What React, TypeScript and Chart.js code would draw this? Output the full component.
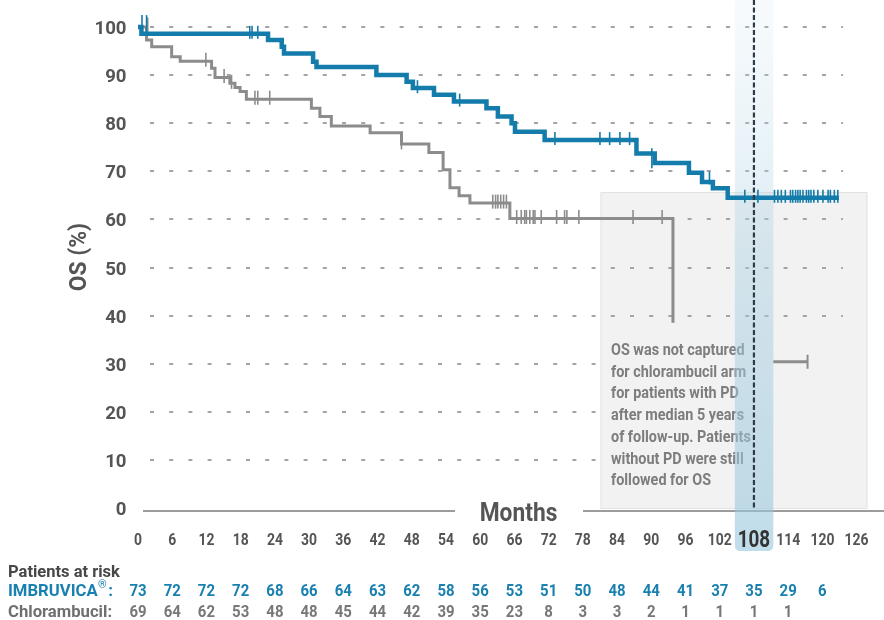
import React, { useEffect, useRef } from "react";
import { Chart, registerables } from "chart.js";

Chart.register(...registerables);

// ---- Data ----
const xTicks = [0, 6, 12, 18, 24, 30, 36, 42, 48, 54, 60, 66, 72, 78, 84, 90, 96, 102, 108, 114, 120, 126];
const yTicks = [0, 10, 20, 30, 40, 50, 60, 70, 80, 90, 100];

const imbruvicaCurve = [
  { x: 0, y: 100 }, { x: 0.6, y: 98.6 }, { x: 22.8, y: 97.3 }, { x: 25.2, y: 95.9 },
  { x: 25.6, y: 94.5 }, { x: 30.7, y: 92.8 }, { x: 31.3, y: 91.7 }, { x: 41.8, y: 90.0 },
  { x: 47.1, y: 88.6 }, { x: 48.2, y: 87.3 }, { x: 51.9, y: 85.9 }, { x: 55.4, y: 84.5 },
  { x: 61.1, y: 83.1 }, { x: 63.1, y: 81.4 }, { x: 65.5, y: 80.0 }, { x: 66.1, y: 78.2 },
  { x: 71.3, y: 76.5 }, { x: 87.4, y: 73.7 }, { x: 90.6, y: 71.7 }, { x: 96.6, y: 69.7 },
  { x: 98.9, y: 67.8 }, { x: 100.8, y: 66.5 }, { x: 103.4, y: 64.5 }, { x: 122.9, y: 64.5 },
];

const imbruvicaCensored = [
  { x: 0.7, y: 100.6 }, { x: 1.5, y: 100.6 },
  { x: 19.6, y: 98.9 }, { x: 20.0, y: 98.9 }, { x: 21.0, y: 98.9 },
  { x: 49.0, y: 87.6 }, { x: 56.4, y: 84.8 },
  { x: 73.1, y: 76.8 }, { x: 81.0, y: 76.8 }, { x: 82.7, y: 76.8 }, { x: 84.5, y: 76.8 }, { x: 86.2, y: 76.8 },
  { x: 90.1, y: 72.7 }, { x: 100.2, y: 68.6 },
  { x: 106.4, y: 64.8 }, { x: 108.7, y: 64.8 },
  { x: 111.6, y: 64.8 }, { x: 112.2, y: 64.8 }, { x: 112.8, y: 64.8 }, { x: 113.5, y: 64.8 },
  { x: 114.4, y: 64.8 }, { x: 114.8, y: 64.8 }, { x: 115.3, y: 64.8 }, { x: 115.7, y: 64.8 },
  { x: 116.1, y: 64.8 }, { x: 116.6, y: 64.8 }, { x: 117.2, y: 64.8 }, { x: 117.6, y: 64.8 },
  { x: 118.0, y: 64.8 }, { x: 118.5, y: 64.8 }, { x: 119.2, y: 64.8 }, { x: 120.1, y: 64.8 },
  { x: 121.0, y: 64.8 }, { x: 121.4, y: 64.8 }, { x: 122.1, y: 64.8 }, { x: 122.7, y: 64.8 },
];

const chlorambucilCurve = [
  { x: 0, y: 100 }, { x: 1.5, y: 97.3 }, { x: 2.4, y: 95.9 }, { x: 5.9, y: 93.8 },
  { x: 7.4, y: 92.9 }, { x: 12.9, y: 91.4 }, { x: 13.5, y: 89.5 }, { x: 16.1, y: 88.3 },
  { x: 17.0, y: 87.4 }, { x: 17.9, y: 86.6 }, { x: 19.0, y: 85.0 }, { x: 30.4, y: 83.1 },
  { x: 31.9, y: 81.4 }, { x: 33.9, y: 79.4 }, { x: 40.7, y: 78.0 }, { x: 46.2, y: 75.7 },
  { x: 51.0, y: 73.9 }, { x: 53.5, y: 70.3 }, { x: 54.7, y: 66.6 }, { x: 56.3, y: 64.9 },
  { x: 58.2, y: 63.4 }, { x: 65.2, y: 60.2 }, { x: 93.8, y: 38.5 },
];

const chlorambucilCensored = [
  { x: 1.7, y: 100.3 }, { x: 11.9, y: 93.2 }, { x: 15.1, y: 89.8 }, { x: 16.4, y: 88.6 },
  { x: 20.5, y: 85.3 }, { x: 21.0, y: 85.3 }, { x: 23.1, y: 85.3 }, { x: 46.2, y: 76.0 },
  { x: 62.2, y: 63.7 }, { x: 62.7, y: 63.7 }, { x: 63.1, y: 63.7 }, { x: 63.6, y: 63.7 },
  { x: 64.1, y: 63.7 }, { x: 64.6, y: 63.7 },
  { x: 66.4, y: 60.5 }, { x: 67.2, y: 60.5 }, { x: 67.8, y: 60.5 }, { x: 68.1, y: 60.5 },
  { x: 68.7, y: 60.5 }, { x: 69.3, y: 60.5 }, { x: 69.6, y: 60.5 }, { x: 70.7, y: 60.5 },
  { x: 73.4, y: 60.5 }, { x: 74.8, y: 60.5 }, { x: 75.2, y: 60.5 }, { x: 77.3, y: 60.5 },
  { x: 86.8, y: 60.5 }, { x: 91.9, y: 60.5 },
];

const chlorambucilLater = [{ x: 111.4, y: 30.4 }, { x: 117.4, y: 30.4 }];

const riskMonths = [0, 6, 12, 18, 24, 30, 36, 42, 48, 54, 60, 66, 72, 78, 84, 90, 96, 102, 108, 114, 120];
const imbruvicaAtRisk = [73, 72, 72, 72, 68, 66, 64, 63, 62, 58, 56, 53, 51, 50, 48, 44, 41, 37, 35, 29, 6];
const chlorambucilAtRisk = [69, 64, 62, 53, 48, 48, 45, 44, 42, 39, 35, 23, 8, 3, 3, 2, 1, 1, 1, 1];

const highlightMonth = 108;
const boxRange = { x0: 81.1, x1: 127.9, yTop: 65.7 };
const noteLines = [
  "OS was not captured",
  "for chlorambucil arm",
  "for patients with PD",
  "after median 5 years",
  "of follow-up. Patients",
  "without PD were still",
  "followed for OS",
];

// ---- Styles ----
const BLUE = "#137caa";
const BLUE_TEXT = "#1a80b0";
const GREY = "#8c8c8c";
const TEXT = "#555555";
const FONT = "Roboto, 'Liberation Sans', sans-serif";

function drawText(
  ctx: CanvasRenderingContext2D, s: string, x: number, y: number,
  size: number, color: string, align: "left" | "center" | "right" = "left", sx = 1, weight = "bold"
) {
  ctx.save();
  ctx.font = `${weight} ${size}px ${FONT}`;
  ctx.fillStyle = color;
  ctx.textBaseline = "alphabetic";
  ctx.textAlign = "left";
  const w = ctx.measureText(s).width * sx;
  const x0 = align === "center" ? x - w / 2 : align === "right" ? x - w : x;
  ctx.translate(x0, y);
  ctx.scale(sx, 1);
  ctx.fillText(s, 0, 0);
  ctx.restore();
  return w;
}

const decorPlugin = {
  id: "decor",
  beforeDatasetsDraw(chart: any) {
    const ctx: CanvasRenderingContext2D = chart.ctx;
    const xs = chart.scales.x;
    const ys = chart.scales.y;
    // grey note box
    const bx0 = xs.getPixelForValue(boxRange.x0);
    const bx1 = xs.getPixelForValue(boxRange.x1);
    const by0 = ys.getPixelForValue(boxRange.yTop);
    const by1 = ys.getPixelForValue(0);
    ctx.save();
    ctx.fillStyle = "#f2f2f2";
    ctx.fillRect(bx0, by0, bx1 - bx0, by1 - by0);
    ctx.strokeStyle = "#e2e2e2";
    ctx.lineWidth = 1;
    ctx.strokeRect(bx0 + 0.5, by0 + 0.5, bx1 - bx0 - 1, by1 - by0);
    ctx.restore();

    // dotted gridlines (lower ones stop at the note box)
    ctx.save();
    ctx.strokeStyle = "#a3a3a3";
    ctx.lineWidth = 2;
    ctx.setLineDash([4, 15.2]);
    for (const v of yTicks) {
      if (v === 0) continue;
      const y = Math.round(ys.getPixelForValue(v));
      ctx.beginPath();
      ctx.moveTo(150, y);
      ctx.lineTo(v <= 30 ? bx0 - 4 : 843, y);
      ctx.stroke();
    }
    ctx.restore();

    // x axis line with gap for "Months"
    ctx.save();
    ctx.strokeStyle = "#9c9c9c";
    ctx.lineWidth = 2;
    ctx.beginPath();
    ctx.moveTo(143, 511);
    ctx.lineTo(455, 511);
    ctx.moveTo(583, 511);
    ctx.lineTo(884, 511);
    ctx.stroke();
    ctx.restore();

    // note text
    noteLines.forEach((s, i) => {
      drawText(ctx, s, 611, 355 + i * 21.7, 16, "#7d7d7d", "left", 0.9);
    });

    // highlight band at 108
    const hx0 = xs.getPixelForValue(highlightMonth - 3.35);
    const hx1 = xs.getPixelForValue(highlightMonth + 3.4);
    const g = ctx.createLinearGradient(0, 0, 0, 551);
    g.addColorStop(0, "rgba(200,225,237,0.15)");
    g.addColorStop(0.5, "rgba(170,208,226,0.45)");
    g.addColorStop(1, "rgba(150,198,220,0.6)");
    ctx.save();
    ctx.fillStyle = g;
    ctx.beginPath();
    const r = 6;
    ctx.moveTo(hx0, 0);
    ctx.lineTo(hx1, 0);
    ctx.lineTo(hx1, 551 - r);
    ctx.quadraticCurveTo(hx1, 551, hx1 - r, 551);
    ctx.lineTo(hx0 + r, 551);
    ctx.quadraticCurveTo(hx0, 551, hx0, 551 - r);
    ctx.closePath();
    ctx.fill();
    ctx.restore();
  },
  afterDatasetsDraw(chart: any) {
    const ctx: CanvasRenderingContext2D = chart.ctx;
    const xs = chart.scales.x;
    const ys = chart.scales.y;
    // dashed vertical line at 108
    const hx = xs.getPixelForValue(highlightMonth);
    ctx.save();
    ctx.strokeStyle = "#2f3b46";
    ctx.lineWidth = 2.2;
    ctx.setLineDash([5, 2.5]);
    ctx.beginPath();
    ctx.moveTo(hx, 0);
    ctx.lineTo(hx, ys.getPixelForValue(0));
    ctx.stroke();
    ctx.restore();

    drawText(ctx, "Months", 518.5, 521, 25, TEXT, "center", 0.91);

    // y tick labels
    for (const v of yTicks) {
      const y = ys.getPixelForValue(v);
      drawText(ctx, String(v), 126.5, y + 7, 19, TEXT, "right", 0.98);
    }
    // y title
    ctx.save();
    ctx.translate(86, 257);
    ctx.rotate(-Math.PI / 2);
    drawText(ctx, "OS (%)", 0, 0, 24, TEXT, "center", 0.95);
    ctx.restore();

    // x tick labels
    for (const v of xTicks) {
      const x = xs.getPixelForValue(v);
      if (v === highlightMonth) {
        drawText(ctx, String(v), x, 547, 23, "#333333", "center", 0.82);
      } else {
        drawText(ctx, String(v), x, 545, 17, TEXT, "center", 0.82);
      }
    }

    // patients at risk table
    drawText(ctx, "Patients at risk", 8, 577, 16.5, "#474747", "left", 1);
    const w = drawText(ctx, "IMBRUVICA", 8, 596, 17, BLUE_TEXT, "left", 0.98);
    const w2 = drawText(ctx, "®", 8 + w + 0.5, 588, 11, BLUE_TEXT, "left", 1, "normal");
    drawText(ctx, ":", 8 + w + w2 + 2, 596, 17, BLUE_TEXT, "left", 1);
    drawText(ctx, "Chlorambucil:", 8, 617, 17, "#6f6f6f", "left", 0.98);
    riskMonths.forEach((m, i) => {
      const x = xs.getPixelForValue(m);
      if (imbruvicaAtRisk[i] !== undefined)
        drawText(ctx, String(imbruvicaAtRisk[i]), x, 596, 17, BLUE_TEXT, "center", 0.88);
      if (chlorambucilAtRisk[i] !== undefined)
        drawText(ctx, String(chlorambucilAtRisk[i]), x, 617, 17, "#777777", "center", 0.88);
    });
  },
};

export default function App() {
  const ref = useRef<HTMLCanvasElement | null>(null);
  useEffect(() => {
    if (!ref.current) return;
    const chart = new Chart(ref.current, {
      type: "line",
      data: {
        datasets: [
          {
            type: "scatter",
            label: "IMBRUVICA censored",
            data: imbruvicaCensored,
            showLine: false,
            pointStyle: "line",
            rotation: 90,
            pointRadius: imbruvicaCensored.map((p) => (p.x > 89 && p.x < 91 ? 10 : p.x < 2 ? 9 : 6.5)),
            pointBorderWidth: 1.6,
            pointBorderColor: BLUE,
            pointBackgroundColor: BLUE,
            clip: false,
            order: 0,
          } as any,
          {
            label: "IMBRUVICA",
            data: imbruvicaCurve,
            stepped: "before",
            borderColor: BLUE,
            borderWidth: 4.5,
            pointRadius: 0,
            fill: false,
            clip: false,
            order: 1,
          } as any,
          {
            type: "scatter",
            label: "Chlorambucil censored",
            data: chlorambucilCensored,
            showLine: false,
            pointStyle: "line",
            rotation: 90,
            pointRadius: chlorambucilCensored.map((p) => (p.x < 2 ? 8 : 7)),
            pointBorderWidth: 1.6,
            pointBorderColor: GREY,
            pointBackgroundColor: GREY,
            clip: false,
            order: 2,
          } as any,
          {
            label: "Chlorambucil",
            data: chlorambucilCurve,
            stepped: "before",
            borderColor: GREY,
            borderWidth: 3,
            pointRadius: 0,
            fill: false,
            clip: false,
            order: 3,
          } as any,
          {
            label: "Chlorambucil (later)",
            data: chlorambucilLater,
            borderColor: GREY,
            borderWidth: 3,
            pointStyle: "line",
            rotation: 90,
            pointRadius: [0, 7],
            pointBorderWidth: 2,
            pointBorderColor: GREY,
            fill: false,
            clip: false,
            order: 4,
          } as any,
        ],
      },
      options: {
        responsive: false,
        animation: false,
        events: [],
        layout: { padding: { left: 138, right: 27.4, top: 27, bottom: 112 } },
        plugins: { legend: { display: false }, tooltip: { enabled: false } },
        scales: {
          x: { type: "linear", min: 0, max: 126, display: false },
          y: { type: "linear", min: 0, max: 100, display: false },
        },
      },
      plugins: [decorPlugin],
    });
    return () => chart.destroy();
  }, []);
  return (
    <div style={{ position: "absolute", left: 0, top: 0, width: 884, height: 620, background: "#fff" }}>
      <canvas ref={ref} width={884} height={620} style={{ width: 884, height: 620, display: "block" }} />
    </div>
  );
}
